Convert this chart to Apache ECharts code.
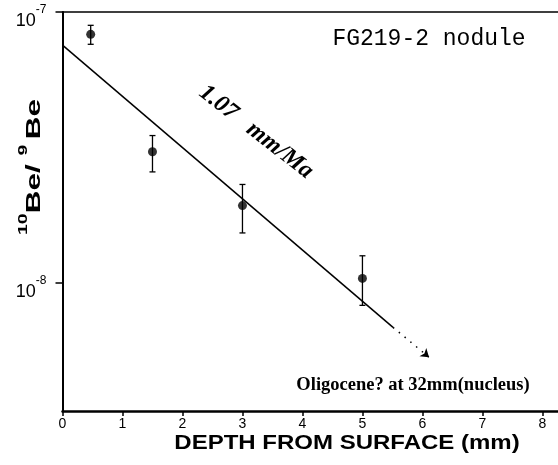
<!DOCTYPE html>
<html><head><meta charset="utf-8">
<script src="https://cdn.jsdelivr.net/npm/echarts@6/dist/echarts.min.js"></script>
<style>html,body{margin:0;padding:0;background:#fff}#c{width:558px;height:465px}</style>
</head><body><div id="c"></div>
<script>
// Data
const depth = [0.47, 1.5, 3.0, 5.0];
const ratio = [8.27e-8, 3.05e-8, 1.93e-8, 1.04e-8];
const errLow = [7.6e-8, 2.57e-8, 1.53e-8, 8.27e-9];
const errHigh = [8.93e-8, 3.50e-8, 2.31e-8, 1.26e-8];
const fitX = [0, 5.51];
const fitY = [7.55e-8, 6.86e-9];
const extX = [5.51, 6.11];
const extY = [6.86e-9, 5.32e-9];
const xTicks = [0, 1, 2, 3, 4, 5, 6, 7, 8];
const yTicks = [1e-8, 1e-7];
const sampleLabel = 'FG219-2 nodule';
const rateLabel = '1.07   mm/Ma';
const noteLabel = 'Oligocene? at 32mm(nucleus)';
const xTitle = 'DEPTH FROM SURFACE (mm)';

const chart = echarts.init(document.getElementById('c'), null, {renderer: 'canvas'});
const pts = depth.map((d, i) => [d, ratio[i]]);
const errs = depth.map((d, i) => [d, errLow[i], errHigh[i]]);
const fit = fitX.map((x, i) => [x, fitY[i]]);

function yFmt(v) {
  const e = Math.log10(v);
  const r = Math.round(e);
  if (Math.abs(e - r) > 1e-6) return '';
  return '{b|10}{s|' + r + '}';
}

chart.setOption({
  animation: false,
  backgroundColor: '#fff',
  grid: {left: 62.5, right: 0, top: 12, bottom: 54, containLabel: false},
  xAxis: [{
    type: 'value', min: 0, max: 8.26, interval: 1,
    axisLine: {show: true, lineStyle: {color: '#000', width: 2.5}},
    axisTick: {show: true, length: 5, lineStyle: {color: '#000', width: 1.5}, customValues: xTicks},
    axisLabel: {color: '#000', fontSize: 14, fontFamily: 'Liberation Sans', margin: 6, customValues: xTicks,
      formatter: v => (Math.abs(v - Math.round(v)) < 1e-6 ? String(Math.round(v)) : '')},
    splitLine: {show: false}
  }, {
    type: 'value', min: 0, max: 8.26, position: 'top',
    axisLine: {show: true, lineStyle: {color: '#000', width: 1.5}},
    axisTick: {show: false}, axisLabel: {show: false}, splitLine: {show: false}
  }],
  yAxis: {
    type: 'log', logBase: 10, min: 3.37e-9, max: 1e-7,
    axisLine: {show: true, lineStyle: {color: '#000', width: 2}},
    axisTick: {show: true, length: 7, inside: false, lineStyle: {color: '#000', width: 1.5}},
    minorTick: {show: false},
    splitLine: {show: false},
    axisLabel: {
      margin: 16, formatter: yFmt, showMinLabel: false, padding: [10, 0, 0, 0],
      rich: {
        b: {fontSize: 18, fontFamily: 'Liberation Sans', color: '#000', lineHeight: 26, verticalAlign: 'bottom'},
        s: {fontSize: 12, fontFamily: 'Liberation Sans', color: '#000', lineHeight: 14, verticalAlign: 'top'}
      }
    }
  },
  series: [
    {
      type: 'line', data: fit, symbol: 'none', xAxisIndex: 0,
      lineStyle: {color: '#000', width: 1.5},
      markLine: {
        silent: true, symbol: ['none', 'arrow'], symbolSize: 8,
        itemStyle: {color: '#000'},
        lineStyle: {color: '#000', width: 1.5, type: [1.5, 6]},
        label: {show: false},
        data: [[{coord: [extX[0], extY[0]], symbol: 'none'},
                {coord: [extX[1], extY[1]], symbol: 'arrow', symbolSize: 8, itemStyle: {color: '#000'}}]]
      }
    },
    {
      type: 'custom', xAxisIndex: 0, data: errs,
      renderItem: function (params, api) {
        const x = api.value(0);
        const lo = api.coord([x, api.value(1)]);
        const hi = api.coord([x, api.value(2)]);
        const c = 3;
        const st = {stroke: '#000', lineWidth: 1.3};
        return {type: 'group', children: [
          {type: 'line', shape: {x1: lo[0], y1: lo[1], x2: hi[0], y2: hi[1]}, style: st},
          {type: 'line', shape: {x1: lo[0] - c, y1: lo[1], x2: lo[0] + c, y2: lo[1]}, style: st},
          {type: 'line', shape: {x1: hi[0] - c, y1: hi[1], x2: hi[0] + c, y2: hi[1]}, style: st}
        ]};
      }
    },
    {
      type: 'scatter', data: pts, xAxisIndex: 0, symbol: 'circle', symbolSize: 9,
      itemStyle: {color: '#000'}
    }
  ],
  graphic: [
    {type: 'text', x: 429, y: 39, style: {text: sampleLabel, fontFamily: 'Liberation Mono', fontSize: 23,
      fill: '#000', align: 'center', verticalAlign: 'middle'}},
    {type: 'text', x: 413, y: 385, style: {text: noteLabel, fontFamily: 'Liberation Serif', fontWeight: 'bold',
      fontSize: 18.5, fill: '#000', align: 'center', verticalAlign: 'middle'}},
    {type: 'text', x: 256, y: 132, rotation: -0.66, style: {text: rateLabel, fontFamily: 'Liberation Serif',
      fontWeight: 'bold', fontStyle: 'italic', fontSize: 24, fill: '#000', align: 'center', verticalAlign: 'middle'}},
    {type: 'text', x: 347, y: 443, scaleX: 1.2, style: {text: xTitle, fontFamily: 'Liberation Sans', fontWeight: 'bold',
      fontSize: 20, fill: '#000', align: 'center', verticalAlign: 'middle'}},
    {type: 'text', x: 31, y: 167, rotation: Math.PI / 2, scaleX: 1.5, style: {
      text: '{s|10}{b|Be/ }{s|9 }{b|Be}', align: 'center', verticalAlign: 'middle',
      rich: {
        b: {fontSize: 21, fontWeight: 'bold', fontFamily: 'Liberation Sans', fill: '#000', lineHeight: 28, verticalAlign: 'bottom'},
        s: {fontSize: 13, fontWeight: 'bold', fontFamily: 'Liberation Sans', fill: '#000', lineHeight: 14, verticalAlign: 'top'}
      }}}
  ]
});
</script></body></html>
